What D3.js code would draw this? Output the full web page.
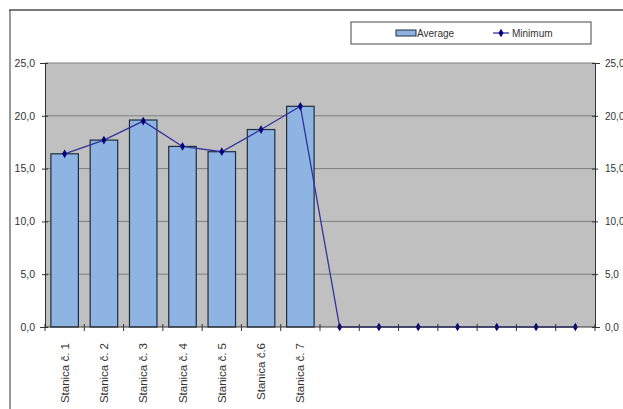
<!DOCTYPE html>
<html>
<head>
<meta charset="utf-8">
<script src="https://cdn.jsdelivr.net/npm/d3@7"></script>
<style>
  html, body { margin: 0; background: #fff; overflow: hidden; }
  svg { display: block; }
  text { font-family: "Liberation Sans", Arial, sans-serif; }
</style>
</head>
<body>
<div id="chart"></div>
<script>
// categories: 7 stations, then 7 empty slots
const stations = ['Stanica č. 1', 'Stanica č. 2', 'Stanica č. 3', 'Stanica č. 4',
                  'Stanica č. 5', 'Stanica č.6', 'Stanica č. 7',
                  '', '', '', '', '', '', ''];
const average = [16.4, 17.7, 19.6, 17.1, 16.6, 18.7, 20.9];
const minimum = [16.4, 17.7, 19.5, 17.1, 16.6, 18.7, 20.9, 0, 0, 0, 0, 0, 0, 0];
const yTicks = [0, 5, 10, 15, 20, 25];
const legendLabels = ['Average', 'Minimum'];

const W = 623, H = 409;
const margin = { top: 63, right: 28, bottom: 82, left: 45 };
const width = W - margin.left - margin.right;
const height = H - margin.top - margin.bottom;

const svg = d3.select('#chart').append('svg')
  .attr('width', W).attr('height', H);

// outer frame (cropped on right/bottom)
svg.append('line').attr('x1', 9).attr('x2', W).attr('y1', 10).attr('y2', 10)
  .attr('stroke', '#7a7a7a').attr('stroke-width', 2);
svg.append('line').attr('x1', 10).attr('x2', 10).attr('y1', 10).attr('y2', H)
  .attr('stroke', '#555').attr('stroke-width', 1.2);

const g = svg.append('g').attr('transform', `translate(${margin.left},${margin.top})`);

const x = d3.scaleBand().domain(d3.range(stations.length)).range([0, width])
  .paddingInner(0.3).paddingOuter(0.15);
const y = d3.scaleLinear().domain([0, 25]).range([height, 0]);

g.append('rect').attr('width', width).attr('height', height).attr('fill', '#c0c0c0');

g.selectAll('.grid').data(yTicks.slice(1)).enter().append('line')
  .attr('x1', 0).attr('x2', width)
  .attr('y1', d => y(d)).attr('y2', d => y(d))
  .attr('stroke', '#7f7f7f').attr('stroke-width', 1);

g.selectAll('.bar').data(average).enter().append('rect')
  .attr('x', (d, i) => x(i)).attr('width', x.bandwidth())
  .attr('y', d => y(d)).attr('height', d => height - y(d))
  .attr('fill', '#8db4e2').attr('stroke', '#1f2d3d').attr('stroke-width', 1.2);

const line = d3.line().x((d, i) => x(i) + x.bandwidth() / 2).y(d => y(d));
g.append('path').datum(minimum).attr('d', line)
  .attr('fill', 'none').attr('stroke', '#33339a').attr('stroke-width', 1.3);

const diamond = d3.symbol().type(d3.symbolDiamond).size(22);
g.selectAll('.pt').data(minimum).enter().append('path')
  .attr('d', diamond)
  .attr('transform', (d, i) => `translate(${x(i) + x.bandwidth() / 2},${y(d)})`)
  .attr('fill', '#000080');

// axes
const fmt = d => d3.format('.1f')(d).replace('.', ',');
const yl = g.append('g').call(d3.axisLeft(y).tickValues(yTicks).tickFormat(fmt).tickSize(5).tickPadding(5));
const yr = g.append('g').attr('transform', `translate(${width},0)`)
  .call(d3.axisRight(y).tickValues(yTicks).tickFormat(fmt).tickSize(5).tickPadding(5));
[yl, yr].forEach(a => {
  a.select('.domain').attr('stroke', '#333');
  a.selectAll('.tick line').attr('stroke', '#333');
  a.selectAll('text').attr('font-size', 10.5).attr('fill', '#333');
});
yr.selectAll('text').attr('font-size', 10);
// keep right labels inside the window
yr.selectAll('.tick text').each(function () {
  const len = this.getComputedTextLength();
  const x0 = margin.left + width + 5;
  if (x0 + len > W - 1) d3.select(this).attr('x', 5 - (x0 + len - (W - 1)));
});
yr.selectAll('.tick line').attr('x1', -3).attr('x2', 3);
yl.selectAll('.tick line').attr('x1', -3).attr('x2', 3);

// category boundary ticks on the bottom axis
const bounds = d3.range(stations.length + 1).map(i => i * width / stations.length);
const xa = g.append('g').attr('transform', `translate(0,${height})`);
xa.append('line').attr('x1', 0).attr('x2', width).attr('stroke', '#333');
xa.selectAll('.bt').data(bounds).enter().append('line')
  .attr('x1', d => d).attr('x2', d => d).attr('y1', -3).attr('y2', 4)
  .attr('stroke', '#333');
xa.selectAll('.lbl').data(stations).enter().append('text')
  .attr('transform', (d, i) => `translate(${x(i) + x.bandwidth() / 2 + 4},${16}) rotate(-90)`)
  .attr('text-anchor', 'end').attr('font-size', 11.5).attr('fill', '#333')
  .text(d => d);

// legend
const lg = svg.append('g').attr('transform', 'translate(351,22)');
lg.append('rect').attr('width', 240).attr('height', 22)
  .attr('fill', '#fff').attr('stroke', '#444').attr('stroke-width', 1);
lg.append('rect').attr('x', 45).attr('y', 8).attr('width', 20).attr('height', 6)
  .attr('fill', '#8db4e2').attr('stroke', '#1f2d3d').attr('stroke-width', 1);
lg.append('text').attr('x', 66).attr('y', 15).attr('font-size', 10).attr('fill', '#333')
  .text(legendLabels[0]);
lg.append('line').attr('x1', 142).attr('x2', 158).attr('y1', 11).attr('y2', 11)
  .attr('stroke', '#33339a').attr('stroke-width', 1.3);
lg.append('path').attr('d', diamond).attr('transform', 'translate(150,11)').attr('fill', '#000080');
lg.append('text').attr('x', 161).attr('y', 15).attr('font-size', 10).attr('fill', '#333')
  .text(legendLabels[1]);
</script>
</body>
</html>
